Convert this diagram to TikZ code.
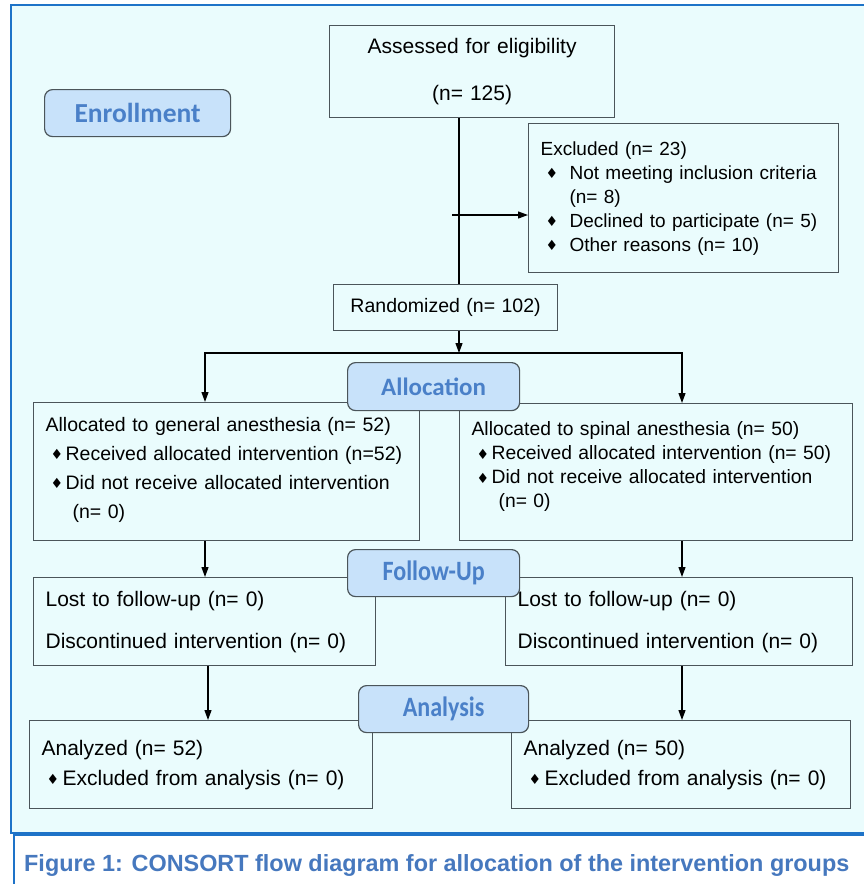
\documentclass[tikz,border=0pt]{standalone}
\usepackage{fontspec}
\setmainfont{Liberation Sans}
\newfontfamily\labelfont{Carlito}
\newfontfamily\labelnarrow[FakeStretch=0.86]{Carlito}
\newfontfamily\symfont{DejaVu Sans}
\usepackage{xcolor}
\usepackage{tikz}
\usetikzlibrary{arrows.meta, positioning, calc}
\definecolor{CSFrame}{RGB}{30, 115, 200}
\definecolor{CSBack}{RGB}{234, 252, 253}
\definecolor{CSLabelFill}{RGB}{200, 226, 250}
\definecolor{CSLabelText}{RGB}{74, 128, 200}
\definecolor{CSBorder}{RGB}{75, 85, 90}
\definecolor{CSCaption}{RGB}{70, 120, 190}
\newcommand{\bul}[1]{\makebox[#1][l]{\raisebox{0.5pt}{\symfont\fontsize{14}{14}\selectfont ♦}}}
\tikzset{
  flowbox/.style={draw=CSBorder, line width=1.2pt, inner xsep=12pt, inner ysep=0pt,
    align=left, anchor=north west},
  stagelabel/.style={draw=CSBorder, fill=CSLabelFill, rounded corners=8pt,
    line width=1.2pt, inner sep=0pt, anchor=north west, text=CSLabelText},
  flowarrow/.style={draw=black, line width=1.2pt, -{Triangle[length=10pt, width=7pt]}},
  flowline/.style={draw=black, line width=1.2pt}
}

\begin{document}
\begin{tikzpicture}[x=1pt, y=-1pt]
    \useasboundingbox (0,0) rectangle (864,884);
    \draw[CSFrame, line width=2.5pt, fill=CSBack] (11,5) rectangle (880,833);
    \draw[CSFrame, line width=2pt, fill=white] (14,835) rectangle (880,900);
    \node[anchor=base west, inner sep=0pt, text=CSCaption,
      font=\bfseries\fontsize{23.4}{27}\selectfont] (caption) at (24,871)
      {Figure 1: CONSORT flow diagram for allocation of the intervention groups};

    \coordinate (trunk) at (459,0);
    \coordinate (colL) at (205,0);
    \coordinate (colLL) at (208,0);
    \coordinate (colR) at (682,0);

    \node[flowbox, align=center, minimum width=285pt, minimum height=92pt, text width=261pt,
      font=\fontsize{21}{24}\selectfont] (assess) at (329,25)
      {Assessed for eligibility\\[23pt](n= 125)};
    \node[flowbox, minimum width=310pt, minimum height=149pt, text width=286pt,
      font=\fontsize{19}{24}\selectfont] (excl) at (528,123)
      {Excluded (n= 23)\\
       \hspace*{5pt}\bul{24pt}Not meeting inclusion criteria\\
       \hspace*{29pt}(n= 8)\\
       \hspace*{5pt}\bul{24pt}Declined to participate (n= 5)\\
       \hspace*{5pt}\bul{24pt}Other reasons (n= 10)};
    \node[flowbox, align=center, minimum width=224pt, minimum height=46pt, text width=200pt,
      font=\fontsize{19.5}{24}\selectfont] (rand) at (333,284)
      {Randomized (n= 102)};
    \node[flowbox, minimum width=386pt, minimum height=138pt, text width=362pt,
      font=\fontsize{19.5}{29}\selectfont] (allocL) at (33,402)
      {Allocated to general anesthesia (n= 52)\\
       \hspace*{5pt}\bul{15pt}Received allocated intervention (n=52)\\
       \hspace*{5pt}\bul{15pt}Did not receive allocated intervention\\
       \hspace*{27pt}(n= 0)\\[-21pt]\mbox{}};
    \node[flowbox, minimum width=393pt, minimum height=137pt, text width=369pt,
      font=\fontsize{19.3}{24}\selectfont] (allocR) at (459,403)
      {Allocated to spinal anesthesia (n= 50)\\
       \hspace*{5pt}\bul{15pt}Received allocated intervention (n= 50)\\
       \hspace*{5pt}\bul{15pt}Did not receive allocated intervention\\
       \hspace*{27pt}(n= 0)\\[-9pt]\mbox{}};
    \node[flowbox, minimum width=342pt, minimum height=88pt, text width=318pt,
      font=\fontsize{21}{42}\selectfont] (fupL) at (33,577)
      {Lost to follow-up (n= 0)\\Discontinued intervention (n= 0)};
    \node[flowbox, minimum width=347pt, minimum height=88pt, text width=323pt,
      font=\fontsize{21}{42}\selectfont] (fupR) at (505,577)
      {Lost to follow-up (n= 0)\\Discontinued intervention (n= 0)};
    \node[flowbox, minimum width=343pt, minimum height=88pt, text width=319pt,
      font=\fontsize{21}{30}\selectfont] (anaL) at (29,720)
      {Analyzed (n= 52)\\
       \hspace*{5pt}\bul{16pt}Excluded from analysis (n= 0)};
    \node[flowbox, minimum width=339pt, minimum height=88pt, text width=315pt,
      font=\fontsize{21}{30}\selectfont] (anaR) at (511,720)
      {Analyzed (n= 50)\\
       \hspace*{5pt}\bul{16pt}Excluded from analysis (n= 0)};

    \coordinate (exclstart) at (452,215);
    \coordinate (split) at (459,353);
    \draw[flowline] (assess.south -| trunk) -- (rand.north -| trunk);
    \draw[flowarrow] (exclstart) -- (excl.west |- exclstart);
    \draw[flowarrow] (rand.south -| trunk) -- (split);
    \draw[flowarrow] (split) -| (allocL.north -| colL);
    \draw[flowarrow] (split) -| (allocR.north -| colR);
    \draw[flowarrow] (allocL.south -| colL) -- (fupL.north -| colL);
    \draw[flowarrow] (allocR.south -| colR) -- (fupR.north -| colR);
    \draw[flowarrow] (fupL.south -| colLL) -- (anaL.north -| colLL);
    \draw[flowarrow] (fupR.south -| colR) -- (anaR.north -| colR);

    \node[stagelabel, minimum width=186pt, minimum height=47pt,
      font=\labelfont\bfseries\fontsize{27.5}{30}\selectfont] (enroll) at (44,89) {Enrollment};
    \node[stagelabel, minimum width=172pt, minimum height=48pt,
      font=\labelfont\bfseries\fontsize{25}{28}\selectfont] (allocation) at (347,362) {Allocation};
    \node[stagelabel, minimum width=172pt, minimum height=47pt,
      font=\labelnarrow\bfseries\fontsize{28}{30}\selectfont] (followup) at (347,549) {Follow-Up};
    \node[stagelabel, minimum width=170pt, minimum height=47pt,
      font=\labelnarrow\bfseries\fontsize{28}{30}\selectfont] (analysis) at (358,685) {Analysis};
\end{tikzpicture}
\end{document}
